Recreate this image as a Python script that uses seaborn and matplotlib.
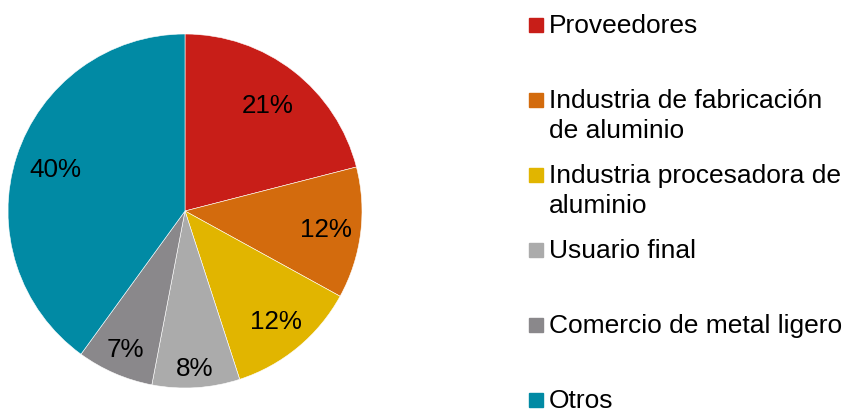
import numpy as np
import matplotlib
matplotlib.use("Agg")
import matplotlib.pyplot as plt
import matplotlib.patches as mpatches
import seaborn as sns

# data
categories = ["Proveedores", "Industria de fabricación\nde aluminio",
              "Industria procesadora de\naluminio", "Usuario final",
              "Comercio de metal ligero", "Otros"]
shares = [21, 12, 12, 8, 7, 40]
colors = ["#C81E18", "#D36B0D", "#E1B500", "#ABABAB", "#8A888B", "#018AA4"]

sns.set_theme(style="white")
plt.rcParams["font.family"] = ["Liberation Sans", "DejaVu Sans"]

W, H = 847, 410
fig = plt.figure(figsize=(W / 100, H / 100), dpi=100)

# pie centred at (185, 212) px, radius 177 px
cx, cy, r = 185, 212, 177
ax = fig.add_axes([(cx - r) / W, (H - cy - r) / H, 2 * r / W, 2 * r / H])
wedges, texts, autotexts = ax.pie(shares, colors=sns.color_palette(colors),
                                  startangle=90, counterclock=False,
                                  autopct="%.0f%%", pctdistance=0.8,
                                  wedgeprops=dict(edgecolor="white", linewidth=0.4),
                                  textprops=dict(fontsize=18.7, color="black"))
ax.set_xlim(-1, 1)
ax.set_ylim(-1, 1)

# nudge the labels like Excel's "best fit"
label_r = [0.76, 0.8, 0.81, 0.89, 0.85, 0.77]
for w, t, d in zip(wedges, autotexts, label_r):
    ang = np.deg2rad((w.theta1 + w.theta2) / 2)
    t.set_position((d * np.cos(ang), d * np.sin(ang)))

# legend drawn by hand, one row every 75 px, wrapped lines 30 px apart
x_box, x_txt, y0, step, box, line = 529, 549, 33, 75, 14, 30
for i, (lab, col) in enumerate(zip(categories, colors)):
    yb = y0 + i * step
    fig.patches.append(mpatches.Rectangle((x_box / W, 1 - yb / H), box / W, box / H,
                                          transform=fig.transFigure, color=col))
    for k, part in enumerate(lab.split("\n")):
        fig.text(x_txt / W, 1 - (yb + k * line) / H, part, fontsize=19,
                 va="baseline", ha="left", color="black")

fig.savefig("out.png", dpi=100)
